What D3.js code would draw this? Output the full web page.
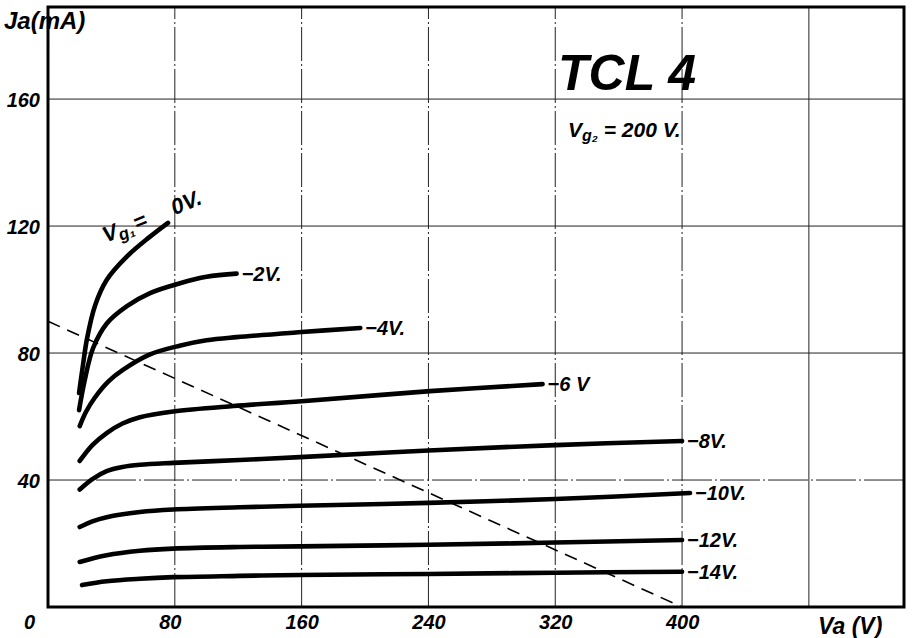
<!DOCTYPE html>
<html>
<head>
<meta charset="utf-8">
<script src="https://cdn.jsdelivr.net/npm/d3@7"></script>
<style>
  html, body { margin: 0; padding: 0; background: #fff; }
  svg { display: block; }
  text { font-family: "Liberation Sans", Arial, sans-serif; font-style: italic; font-weight: bold; fill: #000; }
</style>
</head>
<body>
<svg id="chart" width="913" height="638"></svg>
<script>
// ---- data (anode voltage Va in V, anode current Ia in mA) ----
const xTicks = [0, 80, 160, 240, 320, 400];
const yTicks = [40, 80, 120, 160];
const xGrid = [80, 160, 240, 320, 400, 480];
const yGrid = [40, 80, 120, 160];

const va_0   = [19.6, 22, 24.6, 29.7, 37, 50, 64, 75.7];
const ia_0   = [67.4, 76, 84.5, 95, 103, 110.5, 116.5, 121];
const va_m2  = [19.6, 23, 28.4, 37.2, 49.8, 64.4, 83.3, 100, 119];
const ia_m2  = [62, 71, 81.5, 89.4, 94.8, 98.9, 102, 104, 105];
const va_m4  = [20, 24, 29.6, 38, 47, 64, 83, 100, 119, 160, 197];
const ia_m4  = [57, 61.5, 66, 71, 74.6, 79.5, 82.3, 84, 85, 86.6, 87.9];
const va_m6  = [20, 28, 37, 47, 58, 79, 117, 160, 241, 312];
const ia_m6  = [46, 51, 54.8, 57.8, 59.8, 61.6, 63.3, 64.8, 68, 70.2];
const va_m8  = [20, 28, 37, 47, 58, 79, 121, 159, 240, 320, 400];
const ia_m8  = [37, 40.3, 42.8, 44.1, 44.8, 45.4, 46.3, 47.2, 49.3, 51, 52.3];
const va_m10 = [20, 28, 37, 58, 79, 121, 159, 240, 320, 405];
const ia_m10 = [25.2, 27, 28.3, 29.9, 30.7, 31.4, 31.9, 32.8, 34, 35.9];
const va_m12 = [20, 37, 58, 79, 121, 159, 240, 320, 400];
const ia_m12 = [14.2, 16.3, 17.7, 18.4, 18.9, 19.1, 19.6, 20.3, 21.1];
const va_m14 = [21.5, 37, 58, 79, 121, 159, 240, 320, 400];
const ia_m14 = [6.9, 8.1, 8.9, 9.4, 9.8, 10.1, 10.4, 10.8, 11.1];

const curveLabels = ["", "\u22122V.", "\u22124V.", "\u22126 V", "\u22128V.", "\u221210V.", "\u221212V.", "\u221214V."];

const loadVa = [0, 400];
const loadIa = [90, 0];

// ---- layout ----
const svg = d3.select("#chart");
const x = d3.scaleLinear().domain([0, 540]).range([48, 904]);
const y = d3.scaleLinear().domain([0, 189]).range([607, 7]);

// grid
const g = svg.append("g");
g.selectAll(".vg").data(xGrid).enter().append("line")
  .attr("x1", d => x(d)).attr("x2", d => x(d))
  .attr("y1", y(0)).attr("y2", y(189))
  .attr("stroke", "#222").attr("stroke-width", 1)
  .attr("stroke-dasharray", d => d === 480 ? null : "34,3,2,3");
g.selectAll(".hg").data(yGrid).enter().append("line")
  .attr("x1", x(0)).attr("x2", x(540))
  .attr("y1", d => y(d)).attr("y2", d => y(d))
  .attr("stroke", "#222").attr("stroke-width", 1)
  .attr("stroke-dasharray", d => d === 40 ? "40,3,2,3" : null);

// frame
svg.append("rect")
  .attr("x", x(0)).attr("y", y(189))
  .attr("width", x(540) - x(0)).attr("height", y(0) - y(189))
  .attr("fill", "none").attr("stroke", "#000").attr("stroke-width", 3);

// axes (labels only)
const xAxis = svg.append("g").attr("transform", `translate(0,${y(0)})`)
  .call(d3.axisBottom(x).tickValues(xTicks).tickSize(0).tickFormat(d3.format("d")));
xAxis.select(".domain").remove();
xAxis.selectAll("text").attr("dx", d => d === 0 ? -19 : (d === 80 ? -5 : 0)).attr("dy", 0).attr("y", 22)
  .style("font-size", "20px").style("font-family", "Liberation Sans").style("font-style", "italic").style("font-weight", "bold");

const yAxis = svg.append("g").attr("transform", `translate(${x(0)},0)`)
  .call(d3.axisLeft(y).tickValues(yTicks).tickSize(0).tickFormat(d3.format("d")));
yAxis.select(".domain").remove();
yAxis.selectAll("text").attr("x", -8).attr("dy", "0.36em")
  .style("font-size", "20px").style("font-family", "Liberation Sans").style("font-style", "italic").style("font-weight", "bold");

// axis titles
svg.append("text").attr("x", 4).attr("y", 29).style("font-size", "24px").text("Ja(mA)");
svg.append("text").attr("x", 818).attr("y", 634).style("font-size", "23px").text("Va (V)");

// load line
const line = d3.line().x(d => x(d[0])).y(d => y(d[1]));
svg.append("path")
  .attr("d", line(d3.zip(loadVa, loadIa)))
  .attr("fill", "none").attr("stroke", "#000").attr("stroke-width", 1.6)
  .attr("stroke-dasharray", "13,8");

// characteristic curves
const curves = [
  d3.zip(va_0, ia_0), d3.zip(va_m2, ia_m2), d3.zip(va_m4, ia_m4), d3.zip(va_m6, ia_m6),
  d3.zip(va_m8, ia_m8), d3.zip(va_m10, ia_m10), d3.zip(va_m12, ia_m12), d3.zip(va_m14, ia_m14)
];
const smooth = d3.line().x(d => x(d[0])).y(d => y(d[1])).curve(d3.curveCatmullRom.alpha(0.5));
svg.selectAll(".curve").data(curves).enter().append("path")
  .attr("d", d => smooth(d))
  .attr("fill", "none").attr("stroke", "#000").attr("stroke-width", 4.6)
  .attr("stroke-linecap", "round").attr("stroke-linejoin", "round");

// curve end labels
curves.forEach((c, i) => {
  if (!curveLabels[i]) return;
  const end = c[c.length - 1];
  svg.append("text")
    .attr("x", x(end[0]) + 5).attr("y", y(end[1]) + 7)
    .style("font-size", "20px")
    .text(curveLabels[i]);
});

// Vg1 = 0V label (rotated along the top curve)
const end0 = curves[0][curves[0].length - 1];
const t0 = svg.append("text")
  .attr("transform", `translate(${x(end0[0]) - 62},${y(end0[1]) + 20}) rotate(-22)`)
  .style("font-size", "22px");
t0.append("tspan").text("V");
t0.append("tspan").attr("dy", 4).style("font-size", "17px").text("g\u2081");
t0.append("tspan").attr("dy", -4).attr("dx", 2).text("=");
t0.append("tspan").attr("dx", 28).text("0V.");

// title
svg.append("text").attr("x", 558).attr("y", 90).style("font-size", "50px").text("TCL 4");
const t2 = svg.append("text").attr("x", 568).attr("y", 137).style("font-size", "21px");
t2.append("tspan").text("V");
t2.append("tspan").attr("dy", 4).style("font-size", "16px").text("g\u2082");
t2.append("tspan").attr("dy", -4).text(" = 200 V.");
</script>
</body>
</html>
